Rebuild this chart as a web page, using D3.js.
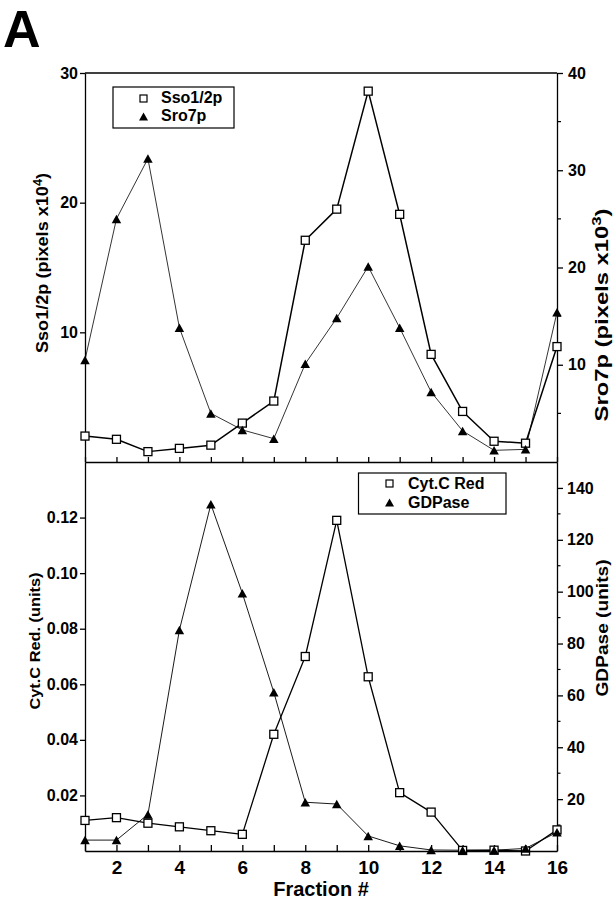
<!DOCTYPE html>
<html>
<head>
<meta charset="utf-8">
<script src="https://cdn.jsdelivr.net/npm/d3@7/dist/d3.min.js"></script>
<style>
  html, body { margin: 0; padding: 0; background: #fff; }
  svg { display: block; }
  text { font-family: "Liberation Sans", Arial, Helvetica, sans-serif; font-weight: bold; fill: #000; }
</style>
</head>
<body>
<svg id="chart" width="614" height="900"></svg>
<script>
// ---------------- DATA ----------------
const fractions = [1, 2, 3, 4, 5, 6, 7, 8, 9, 10, 11, 12, 13, 14, 15, 16];
const xTickLabels = [2, 4, 6, 8, 10, 12, 14, 16];

// Top panel
const sso12p = [2.0, 1.75, 0.8, 1.05, 1.3, 3.0, 4.7, 17.1, 19.5, 28.6, 19.1, 8.3, 3.9, 1.6, 1.45, 8.9];      // pixels x10^4 (left)
const sro7p  = [10.5, 25.0, 31.2, 13.8, 5.0, 3.3, 2.4, 10.1, 14.8, 20.1, 13.8, 7.2, 3.2, 1.2, 1.3, 15.4];    // pixels x10^3 (right)
const topLeftTicks  = [10, 20, 30];
const topRightTicks = [10, 20, 30, 40];
const topRightMinor = [5, 15, 25, 35];

// Bottom panel
const cytCRed = [0.011, 0.012, 0.010, 0.0087, 0.0073, 0.006, 0.042, 0.070, 0.119, 0.0627, 0.021, 0.014, 0.0002, 0.0003, 0.0, 0.0076]; // units (left)
const gdpase  = [4.2, 4.2, 14.1, 85.2, 133.7, 99.4, 61.2, 18.8, 18.1, 5.8, 2.0, 0.4, 0.3, 0.3, 1.0, 7.2];   // units (right)
const botLeftTicks  = [0.02, 0.04, 0.06, 0.08, 0.10, 0.12];
const botRightTicks = [20, 40, 60, 80, 100, 120, 140];
const botRightMinor = [10, 30, 50, 70, 90, 110, 130];

// ---------------- LAYOUT ----------------
const L = 85, R = 557, T = 73, M = 462, B = 851;
const svg = d3.select("#chart");

const x = d3.scaleLinear().domain([1, 16]).range([L, R]);
const yL1 = d3.scaleLinear().domain([0, 30]).range([M, T]);
const yR1 = d3.scaleLinear().domain([0, 40]).range([M, T]);
const yL2 = d3.scaleLinear().domain([0, 0.14]).range([B, M]);
const yR2 = d3.scaleLinear().domain([0, 150]).range([B, M]);

function styleAxis(g, fs) {
  g.select(".domain").attr("stroke", "#000").attr("stroke-width", 1.3);
  g.selectAll(".tick line").attr("stroke", "#000").attr("stroke-width", 1.3);
  g.selectAll(".tick text")
    .style("font-family", '"Liberation Sans", Arial, Helvetica, sans-serif')
    .style("font-weight", "bold").style("font-size", fs + "px").attr("fill", "#000");
}
function minorTicks(scale, vals, xPos, len) {
  svg.append("g").selectAll("line").data(vals).join("line")
    .attr("x1", xPos).attr("x2", xPos + len)
    .attr("y1", d => scale(d)).attr("y2", d => scale(d))
    .attr("stroke", "#000").attr("stroke-width", 1.2);
}

// Panel label
svg.append("text").attr("x", 3).attr("y", 47).style("font-size", "52px").text("A");

// ---------- Top panel axes ----------
svg.append("g").attr("transform", `translate(${L},0)`)
  .call(d3.axisLeft(yL1).tickValues(topLeftTicks).tickSize(5).tickSizeOuter(0).tickPadding(2))
  .call(g => styleAxis(g, 16));
svg.append("g").attr("transform", `translate(${R},0)`)
  .call(d3.axisRight(yR1).tickValues(topRightTicks).tickSize(6).tickSizeOuter(0).tickPadding(5))
  .call(g => styleAxis(g, 16));
minorTicks(yR1, topRightMinor, R, 4);
// top frame
svg.append("line").attr("x1", L).attr("x2", R).attr("y1", T).attr("y2", T)
  .attr("stroke", "#000").attr("stroke-width", 1.3);
// divider axis (top panel bottom)
svg.append("g").attr("transform", `translate(0,${M})`)
  .call(d3.axisTop(x).tickValues(fractions).tickSize(5).tickSizeOuter(0).tickFormat(""))
  .call(g => styleAxis(g, 16));

// ---------- Bottom panel axes ----------
svg.append("g").attr("transform", `translate(${L},0)`)
  .call(d3.axisLeft(yL2).tickValues(botLeftTicks).tickFormat(d3.format(".2f")).tickSize(5).tickSizeOuter(0).tickPadding(2))
  .call(g => styleAxis(g, 16));
svg.append("g").attr("transform", `translate(${R},0)`)
  .call(d3.axisRight(yR2).tickValues(botRightTicks).tickSize(6).tickSizeOuter(0).tickPadding(4))
  .call(g => styleAxis(g, 16));
minorTicks(yR2, botRightMinor, R, 3.5);
svg.append("g").attr("transform", `translate(0,${B})`)
  .call(d3.axisBottom(x).tickValues(fractions).tickSize(-6).tickSizeOuter(0).tickPadding(10)
    .tickFormat(d => xTickLabels.includes(d) ? d : ""))
  .call(g => styleAxis(g, 19));

// ---------- Axis titles ----------
function vTitle(cx, cy, parts, fs, len) {
  const t = svg.append("text")
    .attr("transform", `translate(${cx},${cy}) rotate(-90)`)
    .attr("text-anchor", "middle")
    .style("font-size", fs + "px");
  parts.forEach(p => {
    const ts = t.append("tspan").text(p.t);
    if (p.sup) ts.attr("dy", -fs * 0.38).style("font-size", (fs * 0.7) + "px");
    if (p.after) ts.attr("dy", fs * 0.38);
  });
  if (len) t.attr("textLength", len).attr("lengthAdjust", "spacingAndGlyphs");
  return t;
}
vTitle(48, 263, [{t: "Sso1/2p (pixels x10"}, {t: "4", sup: true}, {t: ")", after: true}], 17, 180);
vTitle(608, 315, [{t: "Sro7p (pixels x10"}, {t: "3", sup: true}, {t: ")", after: true}], 19, 213);
vTitle(40, 641, [{t: "Cyt.C Red. (units)"}], 15, 137);
vTitle(608, 628, [{t: "GDPase (units)"}], 17, 137);

svg.append("text").attr("x", (L + R) / 2).attr("y", 896).attr("text-anchor", "middle")
  .style("font-size", "20px").text("Fraction #");

// ---------- Marks ----------
const triPath = (w, h) => `M0,${-h / 2}L${w / 2},${h / 2}L${-w / 2},${h / 2}Z`;

function drawLine(vals, ys, sw) {
  const line = d3.line().x((d, i) => x(fractions[i])).y(d => ys(d));
  svg.append("path").datum(vals).attr("d", line)
    .attr("fill", "none").attr("stroke", "#000").attr("stroke-width", sw).attr("stroke-linejoin", "round");
}
function drawSquares(vals, ys, s) {
  svg.append("g").selectAll("rect").data(vals).join("rect")
    .attr("x", (d, i) => x(fractions[i]) - s / 2).attr("y", d => ys(d) - s / 2)
    .attr("width", s).attr("height", s)
    .attr("fill", "#fff").attr("stroke", "#000").attr("stroke-width", 1.3);
}
function drawTriangles(vals, ys, w, h) {
  svg.append("g").selectAll("path").data(vals).join("path")
    .attr("transform", (d, i) => `translate(${x(fractions[i])},${ys(d)})`)
    .attr("d", triPath(w, h)).attr("fill", "#000");
}

// top panel
drawLine(sro7p, yR1, 0.8);
drawLine(sso12p, yL1, 1.5);
drawSquares(sso12p, yL1, 8);
drawTriangles(sro7p, yR1, 9.5, 8.5);

// bottom panel
drawLine(gdpase, yR2, 0.9);
drawLine(cytCRed, yL2, 1.3);
drawSquares(cytCRed, yL2, 8);
drawTriangles(gdpase, yR2, 9.5, 8.5);

// ---------- Legends ----------
function legend(bx, by, bw, bh, items) {
  svg.append("rect").attr("x", bx).attr("y", by).attr("width", bw).attr("height", bh)
    .attr("fill", "#fff").attr("stroke", "#000").attr("stroke-width", 1.2);
  items.forEach(it => {
    if (it.type === "sq") {
      svg.append("rect").attr("x", it.mx - 3.5).attr("y", it.my - 3.5).attr("width", 7).attr("height", 7)
        .attr("fill", "#fff").attr("stroke", "#000").attr("stroke-width", 1.2);
    } else {
      svg.append("path").attr("transform", `translate(${it.mx},${it.my})`).attr("d", triPath(9, 8)).attr("fill", "#000");
    }
    svg.append("text").attr("x", it.tx).attr("y", it.ty).style("font-size", "16px").text(it.label);
  });
}
legend(113, 87, 121, 41, [
  {type: "sq", mx: 143.5, my: 98.5, tx: 161, ty: 103, label: "Sso1/2p"},
  {type: "tri", mx: 143.5, my: 116.5, tx: 161, ty: 121, label: "Sro7p"}
]);
legend(358.5, 473, 147.5, 41, [
  {type: "sq", mx: 389.5, my: 483.5, tx: 408, ty: 488.5, label: "Cyt.C Red"},
  {type: "tri", mx: 389.5, my: 502.5, tx: 408, ty: 507.5, label: "GDPase"}
]);
</script>
</body>
</html>
